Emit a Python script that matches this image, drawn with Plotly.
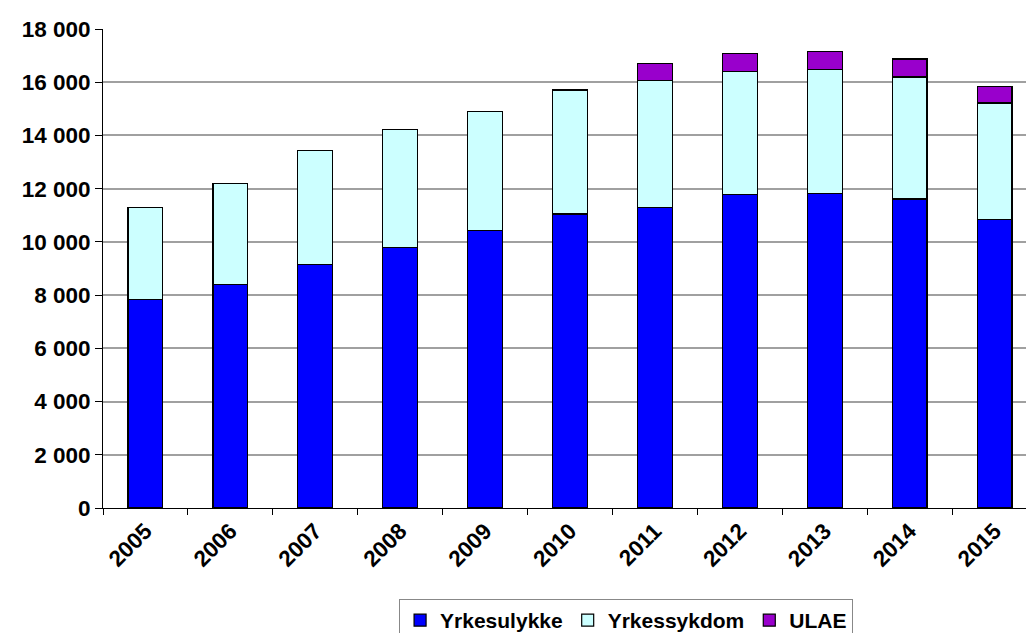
import plotly.graph_objects as go

years = ["2005", "2006", "2007", "2008", "2009", "2010", "2011", "2012", "2013", "2014", "2015"]
yrkesulykke = [7850, 8400, 9140, 9800, 10440, 11050, 11300, 11770, 11810, 11610, 10830]
yrkessykdom = [3450, 3800, 4300, 4410, 4460, 4660, 4750, 4630, 4660, 4590, 4390]
ulae = [0, 0, 0, 0, 0, 0, 650, 680, 670, 670, 630]

FONT = dict(family="Liberation Sans, Arial, sans-serif", size=22.5, color="black", weight="bold")

fig = go.Figure()
for name, vals, col in [
    ("Yrkesulykke", yrkesulykke, "#0000FF"),
    ("Yrkessykdom", yrkessykdom, "#CCFFFF"),
    ("ULAE", ulae, "#9900CC"),
]:
    fig.add_trace(go.Bar(
        x=years, y=vals, name=name,
        marker=dict(color=col, line=dict(color="black", width=1.2)),
    ))

# page body has an 8px margin, so the margins below are shifted to compensate
fig.update_layout(
    barmode="stack",
    bargap=0.59,
    width=1034, height=633,
    margin=dict(l=95, r=5, t=21, b=133, autoexpand=False),
    plot_bgcolor="white",
    paper_bgcolor="white",
    font=FONT,
    separators=", ",
    showlegend=True,
    legend=dict(
        orientation="h", x=0.317, y=-0.19, xanchor="left", yanchor="top",
        bordercolor="#888888", borderwidth=1, font=dict(size=21),
        traceorder="normal",
    ),
)
fig.update_xaxes(
    tickangle=-45, showline=True, linecolor="black", linewidth=1,
    ticks="outside", tickson="boundaries", ticklen=6, tickcolor="black",
    showgrid=False, automargin=False,
)
fig.update_yaxes(
    range=[0, 18000], dtick=2000, tickformat=",d",
    showline=True, linecolor="black", linewidth=1,
    ticks="outside", ticklen=7, tickcolor="black",
    showgrid=True, gridcolor="#a0a0a0", gridwidth=1.5, zeroline=False,
    automargin=False,
)

fig.write_html("out.html")
